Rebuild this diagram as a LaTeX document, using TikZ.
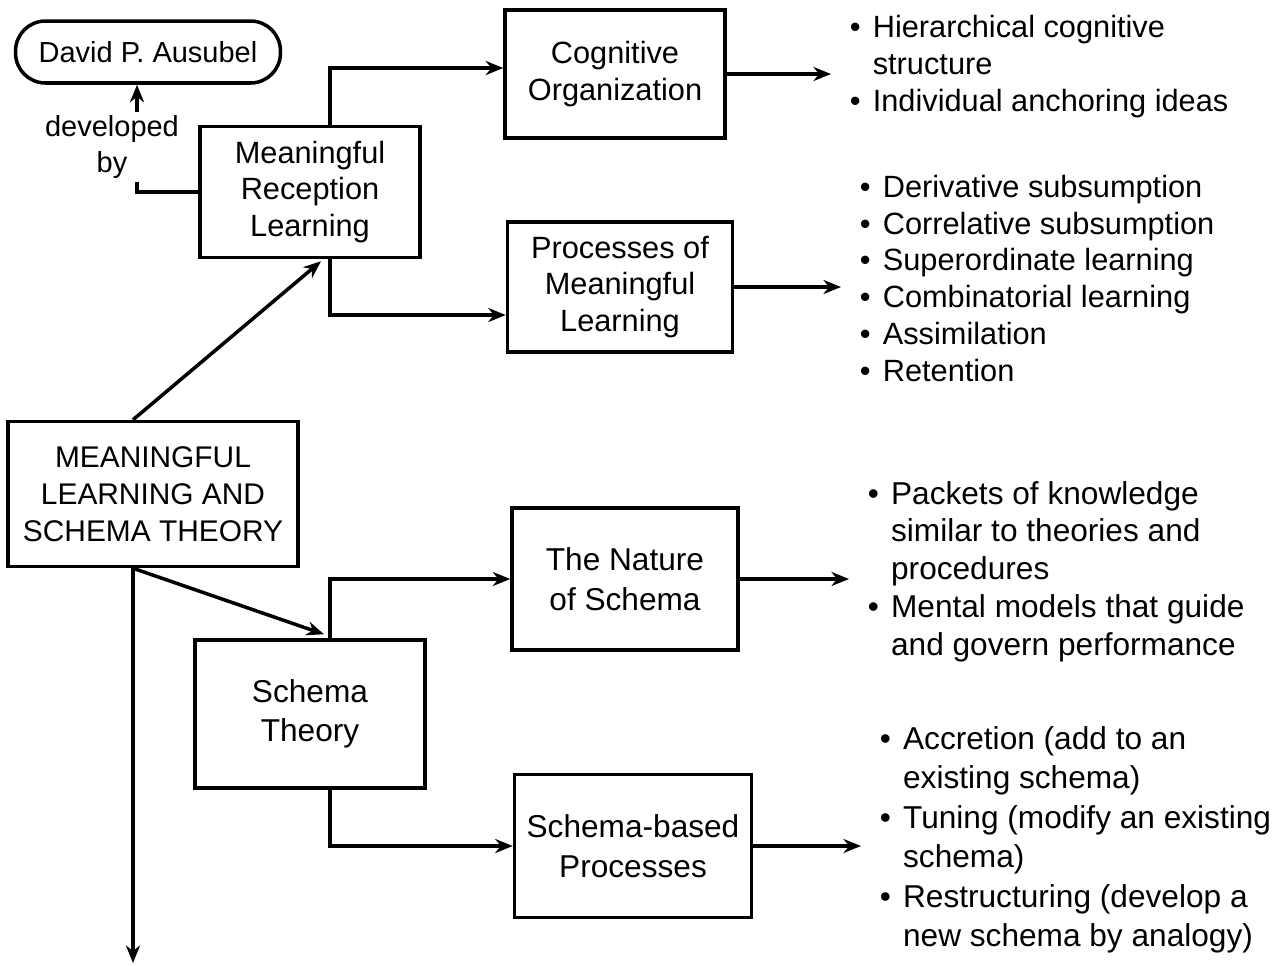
\documentclass[tikz,border=0pt]{standalone}
\usepackage{fontspec}
\setmainfont{Liberation Sans}
\usetikzlibrary{arrows.meta,positioning,calc}
\newcommand{\bl}{\textbullet}

\begin{document}
\begin{tikzpicture}[->,>={Stealth[length=10pt,width=8pt]},x=0.02cm,y=-0.02cm,line width=2pt,
  box/.style={draw,-,align=center,inner sep=2pt,font=\fontsize{17.5}{21}\selectfont},
  bigbox/.style={box,font=\fontsize{18}{22.5}\selectfont},
  pill/.style={box,rounded corners=0.6cm,font=\fontsize{16.5}{20}\selectfont},
  list/.style={anchor=west,inner xsep=0.34cm,inner ysep=0pt,font=\fontsize{17.5}{21}\selectfont}]
  \useasboundingbox (0,0) rectangle (1281,965);

  % boxes
  \node[pill, minimum width=5.3cm, minimum height=1.24cm]   (aus)  at (148,52)  {David P. Ausubel};
  \node[box, minimum width=4.4cm, minimum height=2.62cm]    (mrl)  at (310,192) {Meaningful\\Reception\\Learning};
  \node[box, minimum width=4.4cm, minimum height=2.56cm]    (cog)  at (615,74)  {Cognitive\\Organization};
  \node[box, minimum width=4.5cm, minimum height=2.6cm]     (proc) at (620,287) {Processes of\\Meaningful\\Learning};
  \node[box, minimum width=5.8cm, minimum height=2.9cm,
        font=\fontsize{17}{21}\selectfont]                  (main) at (153,494) {MEANINGFUL\\LEARNING AND\\SCHEMA THEORY};
  \node[bigbox, minimum width=4.52cm, minimum height=2.84cm] (nat)  at (625,579) {The Nature\\of Schema};
  \node[bigbox, minimum width=4.6cm, minimum height=2.96cm]  (sch)  at (310,714) {Schema\\Theory};
  \node[bigbox, minimum width=4.74cm, minimum height=2.86cm] (sbp)  at (633,846) {Schema-based\\Processes};
  \node[align=center, inner sep=1pt, font=\fontsize{16.5}{20}\selectfont] (dev) at (112,147) {developed\\by};

  % bullet lists
  \node[list] (l1) at (831,67) {\begin{tabular}{@{}l@{\hspace{7pt}}l@{}}
    \bl & Hierarchical cognitive\\ & structure\\ \bl & Individual anchoring ideas\end{tabular}};
  \node[list] (l2) at (841,282) {\begin{tabular}{@{}l@{\hspace{7pt}}l@{}}
    \bl & Derivative subsumption\\ \bl & Correlative subsumption\\ \bl & Superordinate learning\\
    \bl & Combinatorial learning\\ \bl & Assimilation\\ \bl & Retention\end{tabular}};
  \node[list, font=\fontsize{18}{21.5}\selectfont] (l3) at (849,572) {\begin{tabular}{@{}l@{\hspace{7pt}}l@{}}
    \bl & Packets of knowledge\\ & similar to theories and\\ & procedures\\
    \bl & Mental models that guide\\ & and govern performance\end{tabular}};
  \node[list, font=\fontsize{18}{22.5}\selectfont] (l4) at (861,840) {\begin{tabular}{@{}l@{\hspace{7pt}}l@{}}
    \bl & Accretion (add to an\\ & existing schema)\\ \bl & Tuning (modify an existing\\ & schema)\\
    \bl & Restructuring (develop a\\ & new schema by analogy)\end{tabular}};

  % connectors
  \coordinate (devx) at ($(aus.south)+(-11,0)$);
  \draw (dev.north -| devx) -- (devx);
  \draw[-] (mrl.west) -| (dev.south -| devx);

  \coordinate (mainhead) at ($(main.north)+(-20,0)$);
  \coordinate (mainfoot) at ($(main.south)+(-20,0)$);
  \coordinate (pageend)  at (133,963);
  \draw (mainhead) -- ($(mrl.south)+(11,2)$);
  \draw (mainfoot) -- ($(sch.north)+(14,-4)$);
  \draw (mainfoot) -- (pageend);

  \draw ($(mrl.north)+(20,0)$) |- ($(cog.west)+(0,-6)$);
  \draw ($(mrl.south)+(20,0)$) |- ($(proc.west)+(0,28)$);
  \draw ($(sch.north)+(20,0)$) |- (nat.west);
  \draw ($(sch.south)+(20,0)$) |- (sbp.west);

  \draw (cog.east)  -- (cog.east -| l1.west);
  \draw (proc.east) -- (proc.east -| l2.west);
  \draw (nat.east)  -- (nat.east -| l3.west);
  \draw (sbp.east)  -- (sbp.east -| l4.west);
\end{tikzpicture}
\end{document}
